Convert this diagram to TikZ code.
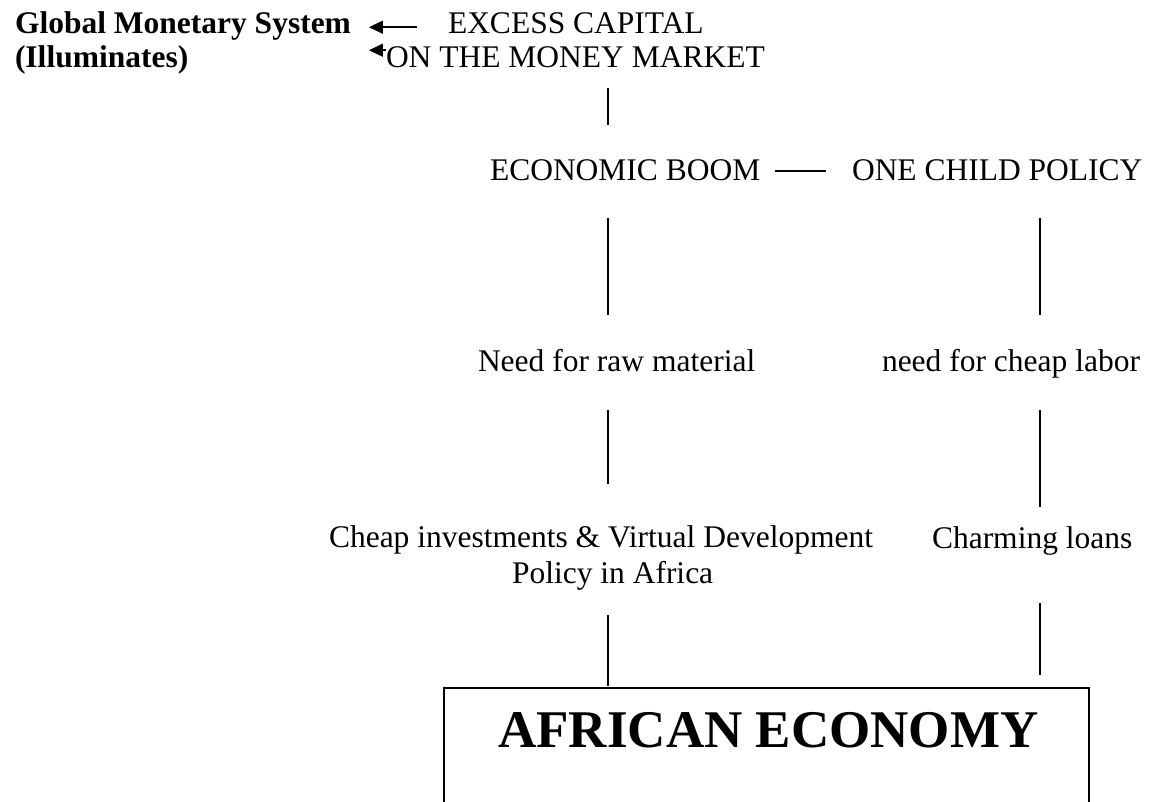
\documentclass[tikz,border=0pt]{standalone}
\usepackage{fontspec}
\setmainfont{Liberation Serif}
\usetikzlibrary{arrows.meta}
\begin{document}
\begin{tikzpicture}[x=1pt,y=-1pt,
  lbl/.style={inner sep=0pt,outer sep=0pt,anchor=base west,font=\fontsize{31.5}{36}\selectfont},
  lblb/.style={lbl,font=\fontsize{31.5}{36}\selectfont\bfseries},
  conn/.style={line width=1.6pt},
  arr/.style={line width=1.6pt,-{Triangle[length=14pt,width=13pt]}},
  bigbox/.style={draw,line width=1.7pt,inner sep=0pt,anchor=north west,minimum width=645pt,minimum height=200pt}]
\useasboundingbox (0,0) rectangle (1151,802);
\coordinate (colL) at (608,0);
\coordinate (colR) at (1040,0);
\node[lblb] (global) at (15,34) {Global Monetary System};
\node[lblb] (illum) at (15,68) {(Illuminates)};
\node[lbl] (excess) at (448,34) {EXCESS CAPITAL};
\node[lbl] (money) at (386,68) {ON THE MONEY MARKET};
\node[lbl] (boom) at (490,181) {ECONOMIC BOOM};
\node[lbl] (child) at (852,181) {ONE CHILD POLICY};
\node[lbl] (raw) at (478,371) {Need for raw material};
\node[lbl] (labor) at (882,371) {need for cheap labor};
\node[lbl] (cheap) at (329,547) {Cheap investments \& Virtual Development};
\node[lbl] (policy) at (512,583) {Policy in Africa};
\node[lbl] (loans) at (932,548) {Charming loans};
\node[bigbox] (box) at (443,687) {};
\node[inner sep=0pt,anchor=base west,font=\fontsize{53}{60}\selectfont\bfseries] (african) at (498,747) {AFRICAN ECONOMY};
% arrows to the global monetary system
\draw[arr,shorten <=31pt,shorten >=18pt] ([yshift=-3.5pt]excess.west) -- ([yshift=-3.5pt]excess.west -| global.east);
\draw[arr,shorten >=18pt] ([yshift=7.5pt]money.west) -- ([yshift=7.5pt]money.west -| global.east);
% link between boom and one child policy
\draw[conn,shorten <=15pt,shorten >=26pt] (boom.east) -- (boom.east -| child.west);
% vertical connectors
\draw[conn,shorten <=20pt,shorten >=35pt] (money.south -| colL) -- (boom.north -| colL);
\draw[conn,shorten <=37pt,shorten >=33.5pt] (boom.south -| colL) -- (raw.north -| colL);
\draw[conn,shorten <=37pt,shorten >=33.5pt] (child.south -| colR) -- (labor.north -| colR);
\draw[conn,shorten <=39pt,shorten >=41.5pt] (raw.south -| colL) -- (cheap.north -| colL);
\draw[conn,shorten <=32pt,shorten >=19.5pt] (labor.south -| colR) -- (loans.north -| colR);
\draw[conn,shorten <=25pt,shorten >=1pt] (policy.south -| colL) -- (box.north -| colL);
\draw[conn,shorten <=48pt,shorten >=12pt] (loans.south -| colR) -- (box.north -| colR);
\end{tikzpicture}
\end{document}
